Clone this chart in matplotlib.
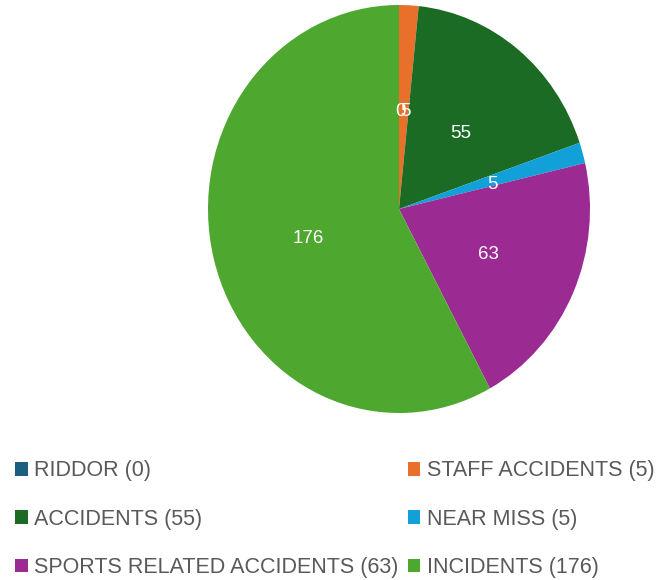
import matplotlib.pyplot as plt
from matplotlib.patches import Patch
from matplotlib.transforms import offset_copy

categories = ["RIDDOR", "STAFF ACCIDENTS", "ACCIDENTS", "NEAR MISS",
              "SPORTS RELATED ACCIDENTS", "INCIDENTS"]
counts = [0, 5, 55, 5, 63, 176]
colors = ["#1b5e82", "#e8702a", "#1b6b24", "#12a0d8", "#9c2a93", "#4ea72e"]

total = sum(counts)

fig = plt.figure(figsize=(6.61, 5.8), dpi=100)
ax = fig.add_axes([208 / 661, 1 - 413 / 580, 382 / 661, 408 / 580])

wedges, _, autotexts = ax.pie(
    counts,
    colors=colors,
    startangle=90,
    counterclock=False,
    autopct=lambda p: f"{round(p * total / 100):d}",
    pctdistance=0.5,
    wedgeprops={"linewidth": 0},
    textprops={"color": "white", "fontsize": 13.5, "family": "Liberation Sans"},
)
# nudge value labels slightly right/down to match the source rendering
for t in autotexts:
    t.set_transform(offset_copy(t.get_transform(), fig=fig, x=2, y=-4, units="dots"))
ax.set_aspect("auto")
ax.set_xlim(-1, 1)
ax.set_ylim(-1, 1)
ax.axis("off")

handles = [Patch(facecolor=c, edgecolor="none") for c in colors]
labels = [f"{c} ({v})" for c, v in zip(categories, counts)]
order = [0, 2, 4, 1, 3, 5]
fig.legend(
    [handles[i] for i in order],
    [labels[i] for i in order],
    ncol=2,
    loc="upper left",
    bbox_to_anchor=(-0.007, 1 - 441 / 580),
    frameon=False,
    handlelength=0.6,
    handleheight=0.6,
    handletextpad=0.3,
    columnspacing=0.42,
    labelspacing=1.27,
    prop={"family": "Liberation Sans", "size": 15.5},
    labelcolor="#595959",
)

fig.savefig("out.png", dpi=100)
